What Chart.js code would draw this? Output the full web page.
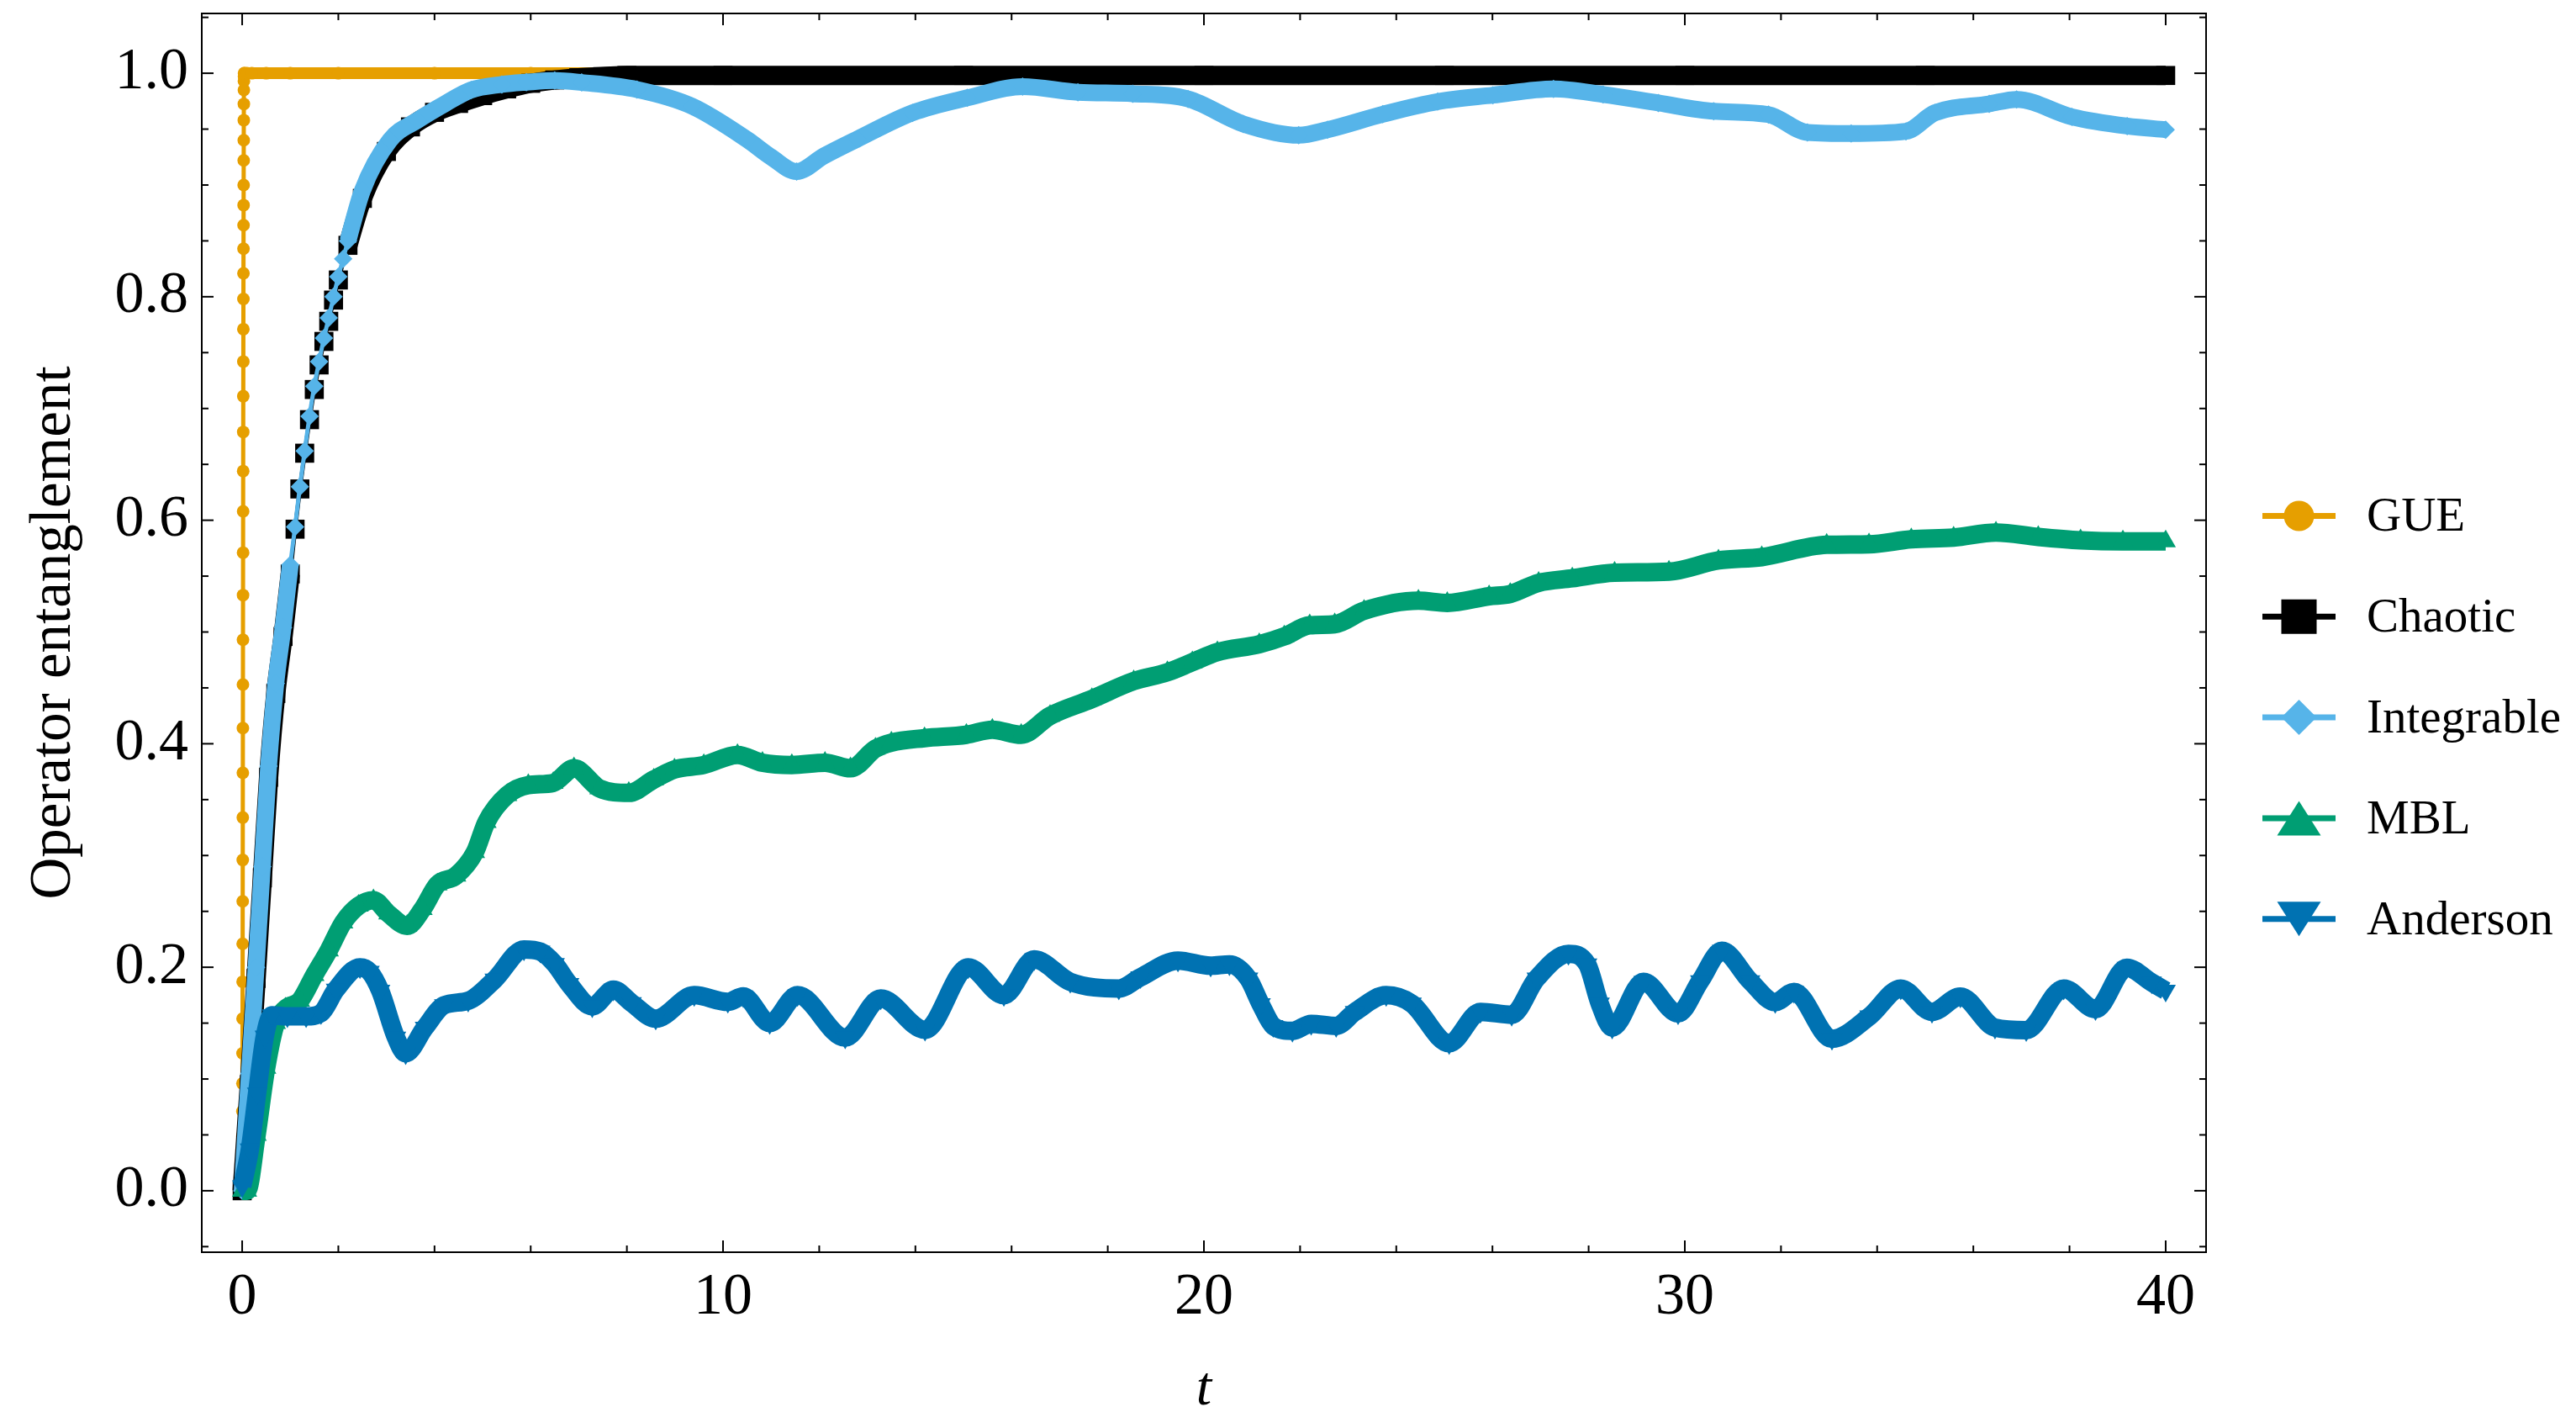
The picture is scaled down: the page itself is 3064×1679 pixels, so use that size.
<!DOCTYPE html>
<html>
<head>
<meta charset="utf-8">
<script src="https://cdn.jsdelivr.net/npm/chart.js@4.4.0/dist/chart.umd.min.js"></script>
<style>
  html, body { margin: 0; padding: 0; background: #fff; }
  #wrap { width: 3064px; height: 1679px; }
</style>
</head>
<body>
<div id="wrap"><canvas id="chart" width="3064" height="1679"></canvas></div>
<script>
// time axis and operator entanglement per model
const gueT = [0, 0.001, 0.002, 0.003, 0.004, 0.005, 0.006, 0.007, 0.008, 0.009,
  0.010, 0.011, 0.012, 0.013, 0.014, 0.015, 0.016, 0.017, 0.018, 0.019,
  0.020, 0.021, 0.022, 0.023, 0.024, 0.025, 0.026, 0.027, 0.028, 0.029,
  0.030, 0.031, 0.032, 0.033, 0.034, 0.035, 0.036, 0.037, 0.038, 0.039,
  0.05, 0.1, 0.2, 0.5, 1, 2, 4, 6, 8, 10, 15, 20, 25, 30, 35, 40];
const gueE = [0, 0.006, 0.0135, 0.028, 0.049, 0.071, 0.096, 0.123, 0.154, 0.187,
  0.221, 0.259, 0.296, 0.334, 0.374, 0.414, 0.453, 0.493, 0.533, 0.571,
  0.608, 0.644, 0.679, 0.711, 0.742, 0.771, 0.798, 0.821, 0.843, 0.864,
  0.882, 0.9, 0.922, 0.94, 0.958, 0.9725, 0.985, 0.993, 0.997, 1.0,
  1, 1, 1, 1, 1, 1, 1, 1, 1, 1, 1, 1, 1, 1, 1, 1];

const chaoticT = [0, 0.15, 0.29, 0.42, 0.55, 0.7, 0.85, 1.0, 1.1, 1.2, 1.3, 1.4, 1.5, 1.6, 1.7,
  1.8, 1.9, 2.0, 2.2, 2.5, 3.0, 3.5, 4.0, 4.5, 5.0, 5.5, 6.0, 6.5, 7.0, 7.5,
  8.0, 10, 15, 20, 25, 30, 35, 40];
const chaoticE = [0, 0.095, 0.19, 0.28, 0.37, 0.445, 0.496, 0.552, 0.592, 0.628, 0.66, 0.69, 0.717, 0.739, 0.76,
  0.778, 0.797, 0.815, 0.846, 0.888, 0.93, 0.952, 0.965, 0.973, 0.98, 0.986, 0.991, 0.994, 0.996, 0.997,
  0.998, 0.998, 0.998, 0.998, 0.998, 0.998, 0.998, 0.998];

const integrableT = [0, 0.15, 0.29, 0.42, 0.55, 0.7, 0.85, 1.0, 1.1, 1.2, 1.3, 1.4, 1.5, 1.6, 1.7,
  1.8, 1.9, 2.0, 2.1, 2.2, 2.5, 3.07, 3.65, 4.23, 4.76, 5.4, 5.91, 6.5, 7.06, 8.21, 9.35,
  10.5, 11.0, 11.53, 12.1, 12.79, 13.94, 15.08, 16.23, 17.38, 18.52, 19.67, 20.82, 21.97, 22.57, 23.72,
  24.86, 26.01, 27.27, 28.3, 29.45, 30.6, 31.74, 32.55, 33.46, 34.6, 35.2, 36.33, 36.9, 38.05, 39.2, 40];
const integrableE = [0, 0.105, 0.2, 0.29, 0.38, 0.454, 0.504, 0.56, 0.594, 0.63, 0.662, 0.693, 0.72, 0.742, 0.763,
  0.781, 0.8, 0.818, 0.834, 0.85, 0.895, 0.94, 0.958, 0.973, 0.985, 0.99, 0.992, 0.9935, 0.9917, 0.9854, 0.9706,
  0.9407, 0.925, 0.912, 0.926, 0.941, 0.9646, 0.978, 0.988, 0.983, 0.9817, 0.977, 0.9546, 0.9445, 0.9495, 0.9633,
  0.9746, 0.9804, 0.986, 0.981, 0.9734, 0.966, 0.963, 0.947, 0.946, 0.948, 0.9646, 0.9726, 0.9766, 0.961, 0.9527, 0.9495];

const mblT = [0, 0.1, 0.3, 0.5, 0.7, 0.9, 1.2, 1.5, 1.8, 2.1, 2.42, 2.73, 3.04, 3.43, 3.75,
  4.06, 4.45, 4.84, 5.08, 5.51, 5.95, 6.47, 6.9, 7.43, 8.04, 8.56, 8.99, 9.6, 10.3, 10.82,
  11.43, 12.12, 12.65, 13.17, 13.5, 14.19, 15.06, 15.6, 16.2, 16.8, 17.67, 18.54, 19.24, 19.76, 20.28,
  21.15, 21.67, 22.2, 22.72, 23.33, 24.46, 25.06, 25.93, 26.37, 26.96, 27.66, 28.54, 29.67, 30.7, 31.6,
  32.95, 33.83, 34.71, 35.59, 36.47, 37.35, 38.23, 39.11, 40];
const mblE = [0, 0.0, 0.05, 0.11, 0.15, 0.163, 0.17, 0.193, 0.215, 0.24, 0.255, 0.26, 0.248, 0.237, 0.252,
  0.274, 0.282, 0.303, 0.33, 0.354, 0.363, 0.365, 0.378, 0.36, 0.356, 0.368, 0.377, 0.381, 0.39, 0.383,
  0.381, 0.383, 0.378, 0.3955, 0.401, 0.405, 0.408, 0.4125, 0.408, 0.425, 0.44, 0.456, 0.464, 0.473, 0.482,
  0.489, 0.496, 0.506, 0.507, 0.519, 0.528, 0.526, 0.532, 0.534, 0.544, 0.548, 0.553, 0.554, 0.564, 0.567,
  0.578, 0.5785, 0.583, 0.5845, 0.589, 0.585, 0.582, 0.581, 0.581];

const andersonT = [0, 0.16, 0.31, 0.47, 0.62, 0.94, 1.33, 1.64, 1.95, 2.45, 2.65, 2.87, 3.2, 3.4, 3.8,
  4.2, 4.7, 5.25, 5.86, 6.2, 6.5, 6.8, 7.28, 7.72, 8.1, 8.6, 9.4, 10.1, 10.42, 10.97,
  11.55, 12.54, 13.28, 14.2, 15.1, 15.84, 16.47, 17.22, 18.23, 18.68, 19.46, 20.14, 20.53, 20.92, 21.18,
  21.44, 21.84, 22.23, 22.75, 23.14, 23.79, 24.32, 25.1, 25.75, 26.4, 26.92, 27.58, 27.97, 28.23, 28.49,
  29.14, 29.86, 30.32, 30.77, 31.36, 31.88, 32.27, 33.06, 33.84, 34.49, 35.14, 35.73, 36.45, 37.1, 37.88,
  38.54, 39.19, 39.71, 40];
const andersonE = [0.004, 0.037, 0.087, 0.138, 0.157, 0.156, 0.156, 0.159, 0.18, 0.2, 0.196, 0.179, 0.137, 0.123, 0.146,
  0.166, 0.17, 0.189, 0.216, 0.214, 0.203, 0.185, 0.165, 0.18, 0.168, 0.154, 0.175, 0.169, 0.174, 0.15,
  0.175, 0.137, 0.172, 0.144, 0.2, 0.175, 0.207, 0.187, 0.181, 0.191, 0.206, 0.2014, 0.2026, 0.19, 0.167,
  0.1475, 0.1431, 0.1494, 0.1475, 0.16, 0.175, 0.1675, 0.132, 0.16, 0.1575, 0.19, 0.212, 0.2026, 0.1675, 0.146,
  0.187, 0.1587, 0.1876, 0.2147, 0.1876, 0.1688, 0.178, 0.136, 0.156, 0.181, 0.16, 0.1738, 0.146, 0.1437, 0.181,
  0.1625, 0.1996, 0.1864, 0.179];

const xTicks = [0, 10, 20, 30, 40];
const yTicks = [0, 0.2, 0.4, 0.6, 0.8, 1.0];

const SERIF = '"Liberation Serif", "Times New Roman", serif';

const toPoints = (ts, es) => ts.map((t, i) => ({ x: t, y: es[i] }));

// legend order == dataset order; the last one is drawn on top.
// where the curve is steep the markers stop overlapping and only a thin line joins them
const models = [
  { label: 'GUE', color: '#E69F00', marker: 'circle', t: gueT, e: gueE, width: 14, thin: 5, radius: 7.5 },
  { label: 'Chaotic', color: '#000000', marker: 'rect', t: chaoticT, e: chaoticE, width: 23, thin: 5, radius: 16, sparse: [1.0, 2.2] },
  { label: 'Integrable', color: '#56B4E9', marker: 'rectRot', t: integrableT, e: integrableE, width: 20, thin: 5, radius: 11, sparse: [1.0, 2.2] },
  { label: 'MBL', color: '#009E73', marker: 'triangle', t: mblT, e: mblE, width: 22, thin: 5, radius: 14 },
  { label: 'Anderson', color: '#0072B2', marker: 'triangleDown', t: andersonT, e: andersonE, width: 22, thin: 5, radius: 14 }
];

const datasets = models.map((m, i) => {
  const segWidth = ctx => {
    const a = ctx.p0DataIndex, b = ctx.p1DataIndex;
    if (m.label === 'GUE') {
      return (m.e[a] >= 0.999 && m.e[b] >= 0.999) ? m.width : m.thin;
    }
    if (m.sparse && m.t[a] >= m.sparse[0] && m.t[b] <= m.sparse[1]) return m.thin;
    return m.width;
  };
  return {
    label: m.label,
    data: toPoints(m.t, m.e),
    borderColor: m.color,
    backgroundColor: m.color,
    borderWidth: m.width,
    borderJoinStyle: 'round',
    borderCapStyle: 'butt',
    segment: { borderWidth: segWidth },
    pointStyle: m.marker === 'triangleDown' ? 'triangle' : m.marker,
    pointRotation: m.marker === 'triangleDown' ? 180 : 0,
    pointRadius: m.radius,
    pointBorderWidth: 0,
    pointBackgroundColor: m.color,
    cubicInterpolationMode: 'monotone',
    order: models.length - i
  };
});

function drawMarker(ctx, kind, cx, cy) {
  ctx.beginPath();
  if (kind === 'circle') {
    ctx.arc(cx, cy, 18, 0, Math.PI * 2);
  } else if (kind === 'rect') {
    ctx.rect(cx - 21, cy - 20.5, 42, 41);
  } else if (kind === 'rectRot') {
    ctx.moveTo(cx, cy - 21);
    ctx.lineTo(cx + 21, cy);
    ctx.lineTo(cx, cy + 21);
    ctx.lineTo(cx - 21, cy);
  } else if (kind === 'triangle') {
    ctx.moveTo(cx, cy - 20.5);
    ctx.lineTo(cx + 26, cy + 20.5);
    ctx.lineTo(cx - 26, cy + 20.5);
  } else {
    ctx.moveTo(cx, cy + 20.5);
    ctx.lineTo(cx + 26, cy - 20.5);
    ctx.lineTo(cx - 26, cy - 20.5);
  }
  ctx.closePath();
  ctx.fill();
}

const frameAndLegend = {
  id: 'frameAndLegend',
  afterDraw(chart) {
    const { ctx, chartArea: a, scales: { x, y } } = chart;
    ctx.save();
    ctx.strokeStyle = '#000';
    ctx.lineWidth = 2;
    const seg = (x1, y1, x2, y2) => {
      ctx.beginPath();
      ctx.moveTo(x1, y1);
      ctx.lineTo(x2, y2);
      ctx.stroke();
    };
    // inward ticks on all four sides, minor every 2 in t and every 0.05 in E
    for (let v = 0; v <= 40; v += 2) {
      const px = x.getPixelForValue(v);
      const len = xTicks.includes(v) ? 14 : 8;
      seg(px, a.bottom, px, a.bottom - len);
      seg(px, a.top, px, a.top + len);
    }
    for (let k = -1; k <= 21; k++) {
      const v = k * 0.05;
      if (v < y.min || v > y.max) continue;
      const py = y.getPixelForValue(v);
      const len = k % 4 === 0 ? 14 : 8;
      seg(a.left, py, a.left + len, py);
      seg(a.right, py, a.right - len, py);
    }
    ctx.strokeRect(a.left, a.top, a.right - a.left, a.bottom - a.top);

    // legend outside the axes, line with a big marker
    const lx0 = 2691, lx1 = 2778, ly0 = 613.5, gap = 119.8;
    models.forEach((m, i) => {
      const cy = ly0 + i * gap;
      ctx.strokeStyle = m.color;
      ctx.lineWidth = 7;
      seg(lx0, cy, lx1, cy);
      ctx.fillStyle = m.color;
      drawMarker(ctx, m.marker, (lx0 + lx1) / 2, cy);
      ctx.fillStyle = '#000';
      ctx.font = '57px ' + SERIF;
      ctx.textAlign = 'left';
      ctx.textBaseline = 'middle';
      ctx.fillText(m.label, 2815, cy + 3);
    });
    ctx.restore();
  }
};

const tickFont = { family: SERIF, size: 70 };

new Chart(document.getElementById('chart'), {
  type: 'line',
  data: { datasets },
  options: {
    responsive: false,
    animation: false,
    devicePixelRatio: 1,
    layout: { padding: { left: 0, right: 440, top: 16, bottom: 0 } },
    plugins: { legend: { display: false }, tooltip: { enabled: false } },
    scales: {
      x: {
        type: 'linear',
        min: -0.84,
        max: 40.84,
        afterFit: s => {
          s.height = 190;
          s.paddingLeft = 0;
          s.paddingRight = 0;
        },
        afterBuildTicks: s => { s.ticks = xTicks.map(v => ({ value: v })); },
        grid: { display: false, drawTicks: false },
        border: { display: false },
        ticks: {
          padding: 13,
          font: tickFont,
          color: '#000',
          maxRotation: 0,
          autoSkip: false,
          callback: v => String(v)
        },
        title: {
          display: true,
          text: 't',
          color: '#000',
          font: { family: SERIF, size: 66, style: 'italic', lineHeight: 0.8 },
          padding: { top: 0, bottom: 0 }
        }
      },
      y: {
        type: 'linear',
        min: -0.055,
        max: 1.0535,
        afterFit: s => {
          s.width = 240;
          s.paddingTop = 0;
          s.paddingBottom = 0;
        },
        afterBuildTicks: s => { s.ticks = yTicks.map(v => ({ value: v })); },
        grid: { display: false, drawTicks: false },
        border: { display: false },
        ticks: {
          padding: 16,
          font: tickFont,
          color: '#000',
          autoSkip: false,
          callback: v => Number(v).toFixed(1)
        },
        title: {
          display: true,
          text: 'Operator entanglement',
          color: '#000',
          font: { family: SERIF, size: 69, lineHeight: 1 },
          padding: { top: 30, bottom: 0 }
        }
      }
    }
  },
  plugins: [frameAndLegend]
});
</script>
</body>
</html>
